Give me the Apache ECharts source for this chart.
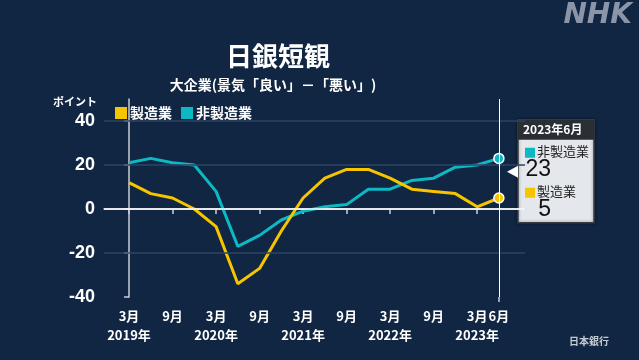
<!DOCTYPE html>
<html><head><meta charset="utf-8">
<script src="https://cdn.jsdelivr.net/npm/echarts@6/dist/echarts.min.js"></script>
<style>html,body{margin:0;padding:0;background:#112642;}#c{width:639px;height:360px;}</style>
</head><body><div id="c"></div>
<script>
// quarterly points, Mar 2019 .. Jun 2023 (index 0..17)
const quarters = ['2019年3月','2019年6月','2019年9月','2019年12月','2020年3月','2020年6月','2020年9月','2020年12月','2021年3月','2021年6月','2021年9月','2021年12月','2022年3月','2022年6月','2022年9月','2022年12月','2023年3月','2023年6月'];
const manufacturing = [12, 7, 5, 0, -8, -34, -27, -10, 5, 14, 18, 18, 14, 9, 8, 7, 1, 5];
const nonManufacturing = [21, 23, 21, 20, 8, -17, -12, -5, -1, 1, 2, 9, 9, 13, 14, 19, 20, 23];
const xTickIdx = [0, 2, 4, 6, 8, 10, 12, 14, 16];
const xTickLabels = ['3月\n2019年','9月','3月\n2020年','9月','3月\n2021年','9月','3月\n2022年','9月','3月\n2023年'];
const xLastIdx = [17];
const xLastLabel = ['6月'];
const yTicks = [-40, -20, 0, 20, 40];
const gridValues = [40, 20, -20];
const tipTitle = '2023年6月';

const YELLOW = '#f7c400', TEAL = '#0cb8c2';
const FONT = '"Noto Sans CJK JP", "Liberation Sans", sans-serif';
const last = quarters.length - 1;

const chart = echarts.init(document.getElementById('c'), null, {renderer: 'canvas'});
const mk = (arr) => arr.map((v, i) => [i, v]);
const symSize = (v, p) => p.dataIndex === last ? 10 : 0;
const xLabelStyle = {color: '#fff', fontSize: 13, fontWeight: 'bold', lineHeight: 19, margin: 10, fontFamily: FONT, hideOverlap: false};

chart.setOption({
  backgroundColor: '#112642',
  animation: false,
  textStyle: {fontFamily: FONT},
  title: [{
    text: '日銀短観', left: 273, top: 38, textAlign: 'center',
    textStyle: {color: '#fff', fontSize: 26, fontWeight: 'bold', fontFamily: FONT}
  }, {
    text: '大企業(景気「良い」－「悪い」)', left: 268, top: 73, textAlign: 'center',
    textStyle: {color: '#fff', fontSize: 14, fontWeight: 'bold', fontFamily: FONT}
  }],
  legend: {
    left: 110, top: 101, itemWidth: 12, itemHeight: 12, itemGap: 9,
    icon: 'rect',
    itemStyle: {borderWidth: 0},
    textStyle: {color: '#fff', fontSize: 14, fontWeight: 'bold', fontFamily: FONT, padding: [0, 0, 0, -2]},
    data: ['製造業', '非製造業']
  },
  grid: {left: 104, right: 114, top: 99, bottom: 63},
  xAxis: [{
    type: 'value', min: -1.15, max: 18.2,
    axisLine: {show: true, lineStyle: {color: '#c9ced6', width: 1.5}},
    axisTick: {show: true, length: 5, lineStyle: {color: '#c9ced6', width: 1.5}, customValues: xTickIdx},
    axisLabel: Object.assign({
      customValues: xTickIdx,
      formatter: (v) => { const k = xTickIdx.indexOf(Math.round(v)); return k >= 0 ? xTickLabels[k] : ''; }
    }, xLabelStyle),
    splitLine: {show: false}
  }, {
    type: 'value', min: -1.15, max: 18.2, position: 'bottom', offset: 0,
    axisLine: {show: false},
    axisTick: {show: true, length: 5, lineStyle: {color: '#c9ced6', width: 1.5}, customValues: xLastIdx},
    axisLabel: Object.assign({
      customValues: xLastIdx,
      formatter: (v) => { const k = xLastIdx.indexOf(Math.round(v)); return k >= 0 ? xLastLabel[k] : ''; }
    }, xLabelStyle),
    splitLine: {show: false}
  }],
  yAxis: {
    type: 'value', min: -40, max: 50,
    axisLine: {show: true, lineStyle: {color: '#c9ced6', width: 1.5}},
    axisTick: {show: true, length: 5, lineStyle: {color: '#c9ced6', width: 1.5}, customValues: yTicks},
    axisLabel: {customValues: yTicks, color: '#fff', fontSize: 18, fontWeight: 'bold', margin: 9, fontFamily: 'Liberation Sans, sans-serif'},
    splitLine: {show: false}
  },
  series: [{
    name: '非製造業', type: 'line', data: mk(nonManufacturing),
    color: TEAL, lineStyle: {width: 3, color: TEAL}, symbol: 'circle', symbolSize: symSize,
    itemStyle: {color: TEAL, borderColor: '#fff', borderWidth: 1.5}, z: 3,
    markLine: {
      silent: true, symbol: 'none', label: {show: false},
      data: [
        ...gridValues.map(v => ({yAxis: v, lineStyle: {color: '#2c4463', width: 1.5, type: 'solid'}})),
        {yAxis: 0, lineStyle: {color: '#ffffff', width: 1.5, type: 'solid'}},
        {xAxis: last, lineStyle: {color: '#ffffff', width: 1, type: 'solid'}}
      ]
    }
  }, {
    name: '製造業', type: 'line', data: mk(manufacturing),
    color: YELLOW, lineStyle: {width: 3, color: YELLOW}, symbol: 'circle', symbolSize: symSize,
    itemStyle: {color: YELLOW, borderColor: '#fff', borderWidth: 1.5}, z: 4
  }],
  graphic: [
    {type: 'text', right: 7, top: 2, style: {text: 'NHK', fill: '#8b95a7', font: 'italic bold 28px "DejaVu Sans", sans-serif'}},
    {type: 'text', right: 542, top: 96, style: {text: 'ポイント', fill: '#fff', font: 'bold 11px ' + FONT}},
    {type: 'text', left: 569, top: 336, style: {text: '日本銀行', fill: '#c5cad3', font: 'bold 10px ' + FONT}},
    // tooltip-like annotation box
    {type: 'group', left: 507, top: 119, children: [
      {type: 'rect', shape: {x: 11, y: 0, width: 76, height: 103}, style: {fill: '#e4e7ec', stroke: '#3a3f47', lineWidth: 1.5, shadowBlur: 3, shadowColor: 'rgba(0,0,0,0.5)'}},
      {type: 'rect', shape: {x: 11, y: 0, width: 76, height: 20}, style: {fill: '#2a2f36'}},
      {type: 'text', x: 16, y: 4, style: {text: tipTitle, fill: '#fff', font: 'bold 12px ' + FONT}},
      {type: 'polygon', shape: {points: [[0, 52], [11, 46], [11, 58]]}, style: {fill: '#ffffff'}},
      {type: 'rect', shape: {x: 18, y: 28, width: 10, height: 10}, style: {fill: TEAL}},
      {type: 'text', x: 30, y: 25, style: {text: '非製造業', fill: '#222', font: '13px ' + FONT}},
      {type: 'text', x: 44, y: 38, style: {text: String(nonManufacturing[last]), fill: '#111', font: '23px "Liberation Sans", sans-serif', align: 'right'}},
      {type: 'rect', shape: {x: 18, y: 68, width: 10, height: 10}, style: {fill: YELLOW}},
      {type: 'text', x: 30, y: 65, style: {text: '製造業', fill: '#222', font: '13px ' + FONT}},
      {type: 'text', x: 44, y: 78, style: {text: String(manufacturing[last]), fill: '#111', font: '23px "Liberation Sans", sans-serif', align: 'right'}}
    ]}
  ]
});
</script>
</body></html>
